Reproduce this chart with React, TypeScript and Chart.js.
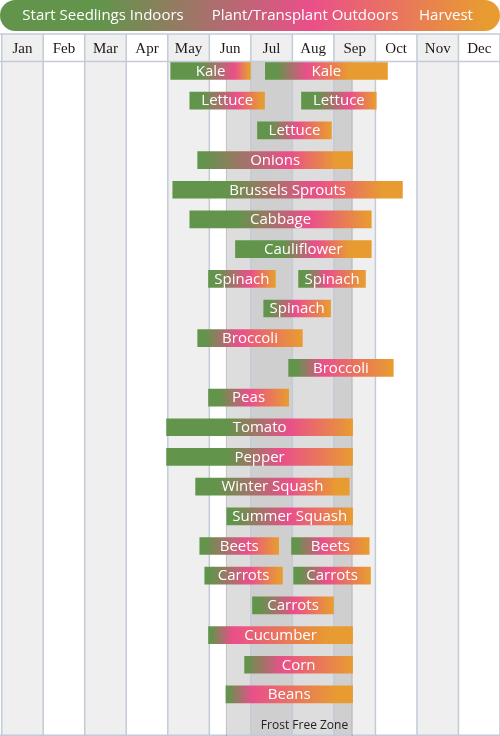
import React, { useEffect, useRef } from "react";
import { Chart, registerables } from "chart.js";

Chart.register(...registerables);

// ---- data ----
const months = ["Jan", "Feb", "Mar", "Apr", "May", "Jun", "Jul", "Aug", "Sep", "Oct", "Nov", "Dec"];

const cropRows = [
  "Kale", "Lettuce", "Lettuce", "Onions", "Brussels Sprouts", "Cabbage", "Cauliflower",
  "Spinach", "Spinach", "Broccoli", "Broccoli", "Peas", "Tomato", "Pepper",
  "Winter Squash", "Summer Squash", "Beets", "Carrots", "Carrots", "Cucumber", "Corn", "Beans",
];

// one entry per bar (month units, Jan = 0..1)
const barRow = [0, 0, 1, 1, 2, 3, 4, 5, 6, 7, 7, 8, 9, 10, 11, 12, 13, 14, 15, 16, 16, 17, 17, 18, 19, 20, 21];
const barStart = [4.07, 6.35, 4.53, 7.22, 6.16, 4.72, 4.12, 4.53, 5.63, 4.98, 7.15, 6.31, 4.72, 6.91, 4.98, 3.97, 3.97, 4.67, 5.42, 4.77, 6.98, 4.89, 7.03, 6.04, 4.98, 5.85, 5.40];
const barEnd = [5.99, 9.29, 6.33, 9.02, 7.94, 8.45, 9.65, 8.90, 8.90, 6.59, 8.76, 7.92, 7.24, 9.43, 6.91, 8.45, 8.45, 8.37, 8.45, 6.67, 8.85, 6.76, 8.88, 7.99, 8.45, 8.45, 8.45];
// phase points: indoor seedlings until, transplant peak, harvest from
const greenUntil = [4.77, 6.62, 4.84, 7.58, 6.45, 4.84, 5.42, 5.66, 6.76, 5.18, 7.34, 6.45, 4.89, 7.10, 5.25, 5.42, 5.42, 5.18, 5.61, 4.89, 7.10, 5.01, 7.17, 6.21, 5.03, 5.90, 5.44];
const pinkAt = [5.61, 7.34, 5.66, 8.37, 7.10, 6.93, 7.58, 7.41, 7.58, 5.97, 7.82, 7.10, 5.73, 7.72, 5.97, 6.93, 6.76, 6.93, 6.93, 5.90, 7.72, 5.97, 7.82, 7.05, 5.56, 6.76, 6.04];
const orangeFrom = [5.95, 8.37, 6.26, 9.0, 7.90, 8.06, 9.17, 8.85, 8.37, 6.55, 8.70, 7.90, 7.20, 9.40, 6.90, 8.45, 8.45, 8.06, 8.45, 6.65, 8.80, 6.70, 8.85, 7.95, 7.89, 8.45, 8.06];

const legendLabels = ["Start Seedlings Indoors", "Plant/Transplant Outdoors", "Harvest"];
const frostFree = [5.41, 8.44];
const frostLabel = "Frost Free Zone";

// ---- styles ----
const GREEN = "#62944b";
const PINK = "#ea4f8a";
const ORANGE = "#e89b31";
const LINE = "#c3cbd7";
const SANS = "'Open Sans', sans-serif";

const clamp = (v: number) => Math.max(0, Math.min(1, v));

function barGradient(chart: any, i: number) {
  const xs = chart.scales?.x;
  if (!xs || !chart.chartArea) return GREEN;
  const x0 = xs.getPixelForValue(barStart[i]);
  const x1 = xs.getPixelForValue(barEnd[i]);
  const len = barEnd[i] - barStart[i];
  const f = (v: number) => clamp((v - barStart[i]) / len);
  const g = chart.ctx.createLinearGradient(x0, 0, x1, 0);
  const a = f(greenUntil[i]);
  const b = Math.max(a, f(pinkAt[i]));
  const c = Math.max(b, f(orangeFrom[i]));
  g.addColorStop(0, GREEN);
  g.addColorStop(a, GREEN);
  g.addColorStop(b, PINK);
  g.addColorStop(c, ORANGE);
  g.addColorStop(1, ORANGE);
  return g;
}

const backgroundPlugin = {
  id: "bgGrid",
  beforeDatasetsDraw(chart: any) {
    const { ctx, chartArea, scales } = chart;
    const xs = scales.x;
    const W = chart.width;
    const H = chart.height;
    ctx.save();

    // legend pill
    const lg = ctx.createLinearGradient(0, 0, W, 0);
    lg.addColorStop(0, GREEN);
    lg.addColorStop(0.2, GREEN);
    lg.addColorStop(0.62, PINK);
    lg.addColorStop(0.97, ORANGE);
    lg.addColorStop(1, ORANGE);
    ctx.fillStyle = lg;
    ctx.beginPath();
    (ctx as any).roundRect(0, 0, W, 31, 15.5);
    ctx.fill();
    ctx.fillStyle = "#ffffff";
    ctx.font = `500 15px ${SANS}`;
    ctx.textAlign = "center";
    ctx.textBaseline = "middle";
    const lx = [103, 305, 446];
    legendLabels.forEach((t, i) => ctx.fillText(t, lx[i], 16));

    // columns
    const top = chartArea.top;
    for (let i = 0; i < 12; i++) {
      const x0 = xs.getPixelForValue(i);
      const x1 = xs.getPixelForValue(i + 1);
      ctx.fillStyle = i % 2 === 0 ? "#efefef" : "#ffffff";
      ctx.fillRect(x0, 34, x1 - x0, 27);
      ctx.fillRect(x0, top, x1 - x0, H - top);
    }
    // frost-free zone
    const f0 = xs.getPixelForValue(frostFree[0]);
    const f1 = xs.getPixelForValue(frostFree[1]);
    ctx.fillStyle = "rgba(0,0,0,0.135)";
    ctx.fillRect(f0, top, f1 - f0, H - top);

    // lines
    ctx.strokeStyle = LINE;
    ctx.lineWidth = 1.5;
    for (let i = 0; i <= 12; i++) {
      const x = xs.getPixelForValue(i);
      ctx.beginPath();
      ctx.moveTo(x, 34);
      ctx.lineTo(x, H);
      ctx.stroke();
    }
    ctx.beginPath();
    ctx.moveTo(0, 34);
    ctx.lineTo(W, 34);
    ctx.moveTo(0, 61.5);
    ctx.lineTo(W, 61.5);
    ctx.moveTo(0, H - 0.75);
    ctx.lineTo(W, H - 0.75);
    ctx.stroke();
    ctx.strokeStyle = "rgba(0,0,0,0.18)";
    ctx.lineWidth = 1;
    ctx.beginPath();
    ctx.moveTo(f0, top);
    ctx.lineTo(f0, H);
    ctx.moveTo(f1, top);
    ctx.lineTo(f1, H);
    ctx.stroke();

    // month labels
    ctx.fillStyle = "#1a1a1a";
    ctx.font = "15px 'Liberation Serif', serif";
    ctx.textAlign = "center";
    for (let i = 0; i < 12; i++) {
      const cx = (xs.getPixelForValue(i) + xs.getPixelForValue(i + 1)) / 2;
      ctx.fillText(months[i], cx, 49);
    }

    // frost label
    ctx.fillStyle = "#222222";
    ctx.font = `12px ${SANS}`;
    ctx.textAlign = "right";
    ctx.fillText(frostLabel, f1 - 4, H - 10);
    ctx.restore();
  },
  afterDatasetsDraw(chart: any) {
    const { ctx } = chart;
    const meta = chart.getDatasetMeta(0);
    ctx.save();
    ctx.fillStyle = "#ffffff";
    ctx.font = `500 15px ${SANS}`;
    ctx.textAlign = "center";
    ctx.textBaseline = "middle";
    meta.data.forEach((el: any, i: number) => {
      const p = el.getProps(["x", "y", "base"], true);
      ctx.fillText(cropRows[barRow[i]], (p.x + p.base) / 2, p.y + 0.5);
    });
    ctx.restore();
  },
};

export default function App() {
  const ref = useRef<HTMLCanvasElement | null>(null);
  useEffect(() => {
    document.body.style.margin = "0";
    const canvas = ref.current;
    if (!canvas) return;
    const chart = new Chart(canvas, {
      type: "bar",
      data: {
        datasets: [
          {
            data: barStart.map((s, i) => ({ x: [s, barEnd[i]], y: barRow[i] })) as any,
            backgroundColor: (c: any) => barGradient(c.chart, c.dataIndex),
            borderWidth: 0,
            borderSkipped: false,
            barThickness: 17,
          },
        ],
      },
      options: {
        indexAxis: "y",
        animation: false,
        responsive: false,
        events: [],
        layout: { padding: { top: 62, left: 1.7, right: 0, bottom: 0 } },
        scales: {
          x: { type: "linear", min: 0, max: 12, offset: false, display: false },
          y: { type: "linear", min: -0.303, max: 22.4, reverse: true, offset: false, display: false },
        },
        plugins: { legend: { display: false }, tooltip: { enabled: false } },
      },
      plugins: [backgroundPlugin],
    });
    return () => chart.destroy();
  }, []);
  return <canvas ref={ref} width={500} height={736} style={{ display: "block" }} />;
}
